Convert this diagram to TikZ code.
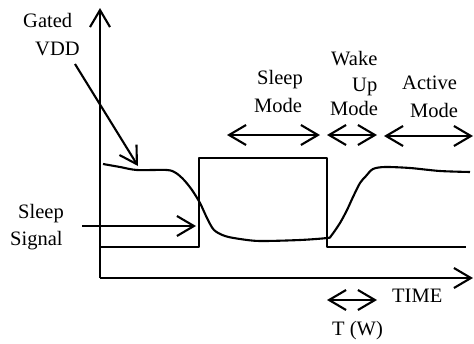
\documentclass[tikz,border=0pt]{standalone}
\usepackage{fontspec}
\setmainfont{Liberation Serif}
\usetikzlibrary{arrows.meta}
\begin{document}
\begin{tikzpicture}[x=1pt,y=-1pt,
  ln/.style={line width=2.1pt, line join=round},
  barb/.style={ln, -{Straight Barb[length=17pt,width=20pt,line width=2.1pt]}},
  dbarb/.style={ln, {Straight Barb[length=17pt,width=20pt,line width=2.1pt]}-{Straight Barb[length=17pt,width=20pt,line width=2.1pt]}},
  lbl/.style={inner sep=0pt, anchor=base west, font=\fontsize{20.5}{24}\selectfont}]
\useasboundingbox (0,0) rectangle (474,343);
% axes
\coordinate (org) at (100,278);
\coordinate (ytip) at (100,8);
\coordinate (xtip) at (473,278);
\draw[barb] (org) -- (ytip);
\draw[barb] (org) -- (xtip);
% sleep signal
\coordinate (s0) at (100,247);
\coordinate (s1) at (199,247);
\coordinate (s2) at (199,158);
\coordinate (s3) at (327,158);
\coordinate (s4) at (327,247);
\coordinate (s5) at (466,247);
\draw[ln] (s0) -- (s1) -- (s2) -- (s3) -- (s4) -- (s5);
% gated VDD
\draw[ln] plot[smooth, tension=0.5] coordinates {(103,164) (120,167) (137,170) (167,170) (176,173) (184,180) (192,190) (200,203) (207,218) (214,230) (225,236) (240,239) (260,241) (300,240) (327,238) (331,236) (340,223) (347,210) (353,197) (360,183) (366,176) (373,169) (385,167) (410,168) (440,171) (470,172)};
% labels
\node[lbl] (gated) at (23,27) {Gated};
\node[lbl] (vdd) at (35,55) {VDD};
\node[lbl] (sleepL) at (18,218) {Sleep};
\node[lbl] (signal) at (10,245) {Signal};
\node[lbl] (sleepT) at (257,84) {Sleep};
\node[lbl] (modeS) at (254,112) {Mode};
\node[lbl] (wake) at (331,65) {Wake};
\node[lbl] (up) at (352,91) {Up};
\node[lbl] (modeW) at (330,115) {Mode};
\node[lbl] (active) at (402,89) {Active};
\node[lbl] (modeA) at (410,117) {Mode};
\node[lbl] (time) at (392,302) {TIME};
\node[lbl] (tw) at (332,335) {T (W)};
% pointer arrows
\coordinate (gvA) at (75,64);
\coordinate (gvB) at (138,166);
\draw[barb] (gvA) -- (gvB);
\coordinate (ssA) at (82,226);
\coordinate (ssB) at (196,226);
\draw[barb] (ssA) -- (ssB);
% mode arrows
\coordinate (smA) at (227,135);
\coordinate (smB) at (320,135);
\draw[dbarb] (smA) -- (smB);
\coordinate (wuA) at (327,135);
\coordinate (wuB) at (377,135);
\draw[dbarb] (wuA) -- (wuB);
\coordinate (amA) at (384,136);
\coordinate (amB) at (473,136);
\draw[dbarb] (amA) -- (amB);
\coordinate (twA) at (327,300);
\coordinate (twB) at (377,300);
\draw[dbarb] (twA) -- (twB);
\end{tikzpicture}
\end{document}
